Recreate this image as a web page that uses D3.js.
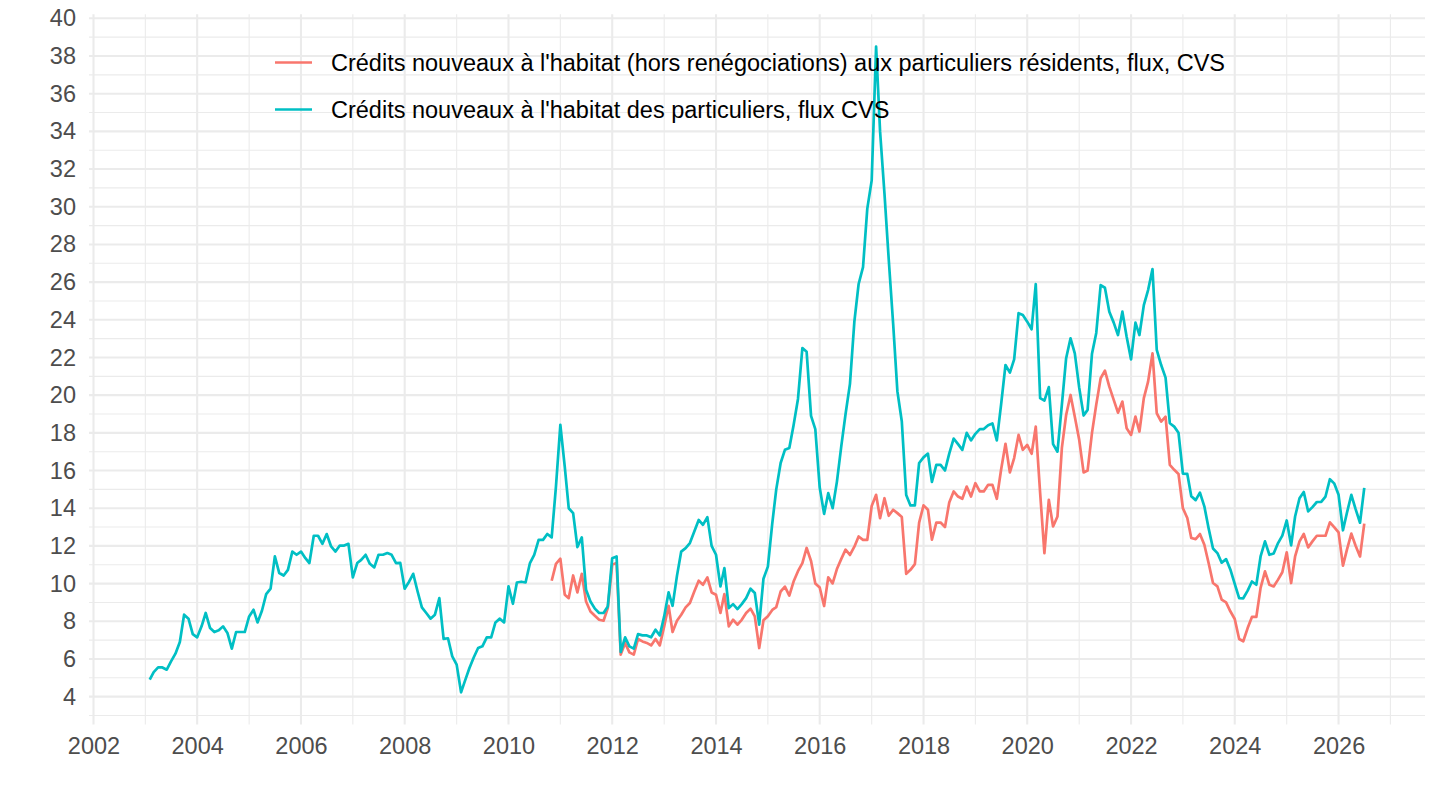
<!DOCTYPE html>
<html>
<head>
<meta charset="utf-8">
<script src="https://cdn.jsdelivr.net/npm/d3@7"></script>
<style>
  html, body { margin: 0; padding: 0; background: #fff; }
  svg { display: block; font-family: "Liberation Sans", Arial, Helvetica, sans-serif; }
</style>
</head>
<body>
<svg id="chart" width="1440" height="810"></svg>
<script>
// New housing loans to households, monthly flows, seasonally adjusted (bn EUR)

const seriesLabels = [
  "Crédits nouveaux à l'habitat (hors renégociations) aux particuliers résidents, flux, CVS",
  "Crédits nouveaux à l'habitat des particuliers, flux CVS"
]
const seriesColors = ['#F8766D', '#00BFC4']

// first month of each series
const startExclReneg = new Date(2010, 10, 1)   // Nov 2010
const startAllLoans = new Date(2003, 1, 1)     // Feb 2003

// hors renégociations (red), Nov 2010 -> Jul 2026
const exclReneg = [
  10.15, 11.05,
  11.32, 9.41, 9.23, 10.43, 9.53, 10.52, 9.05, 8.52, 8.29, 8.08, 8.03, 8.7,
  11.0, 11.1, 6.23, 6.85, 6.35, 6.23, 7.06, 6.93, 6.85, 6.72, 7.06, 6.72,
  7.73, 8.82, 7.43, 8.03, 8.35, 8.74, 8.97, 9.58, 10.15, 9.94, 10.33, 9.53,
  9.41, 8.44, 9.44, 7.73, 8.08, 7.82, 8.08, 8.44, 8.67, 8.26, 6.58, 8.05,
  8.27, 8.6, 8.75, 9.58, 9.84, 9.36, 10.11, 10.66, 11.09, 11.89, 11.2, 10.01,
  9.79, 8.81, 10.33, 10.01, 10.77, 11.31, 11.8, 11.52, 11.96, 12.5, 12.32, 12.32,
  14.12, 14.71, 13.47, 14.53, 13.6, 13.92, 13.74, 13.53, 10.52, 10.73, 11.03, 13.24,
  14.15, 13.92, 12.33, 13.24, 13.24, 13.0, 14.3, 14.89, 14.62, 14.5, 15.15, 14.62,
  15.33, 14.89, 14.89, 15.24, 15.24, 14.5, 16.04, 17.42, 15.9, 16.66, 17.89, 17.1,
  17.36, 16.89, 18.33, 14.8, 11.62, 14.45, 13.03, 13.56, 17.2, 18.95, 20.01, 18.86,
  17.63, 15.9, 16.0, 18.0, 19.5, 20.9, 21.3, 20.45, 19.75, 19.07, 19.66, 18.24,
  17.89, 18.86, 18.07, 19.84, 20.72, 22.22, 19.04, 18.6, 18.86, 16.3, 16.04, 15.82,
  14.0, 13.48, 12.42, 12.36, 12.63, 12.06, 11.09, 10.03, 9.85, 9.15, 9.0, 8.53,
  8.12, 7.06, 6.94, 7.64, 8.23, 8.23, 9.77, 10.65, 9.94, 9.85, 10.21, 10.6,
  11.66, 10.03, 11.44, 12.24, 12.63, 11.92, 12.24, 12.54, 12.54, 12.54, 13.25, 13.0,
  12.72, 10.95, 11.8, 12.65, 12.01, 11.44, 13.18
]

// all new housing loans (cyan), Feb 2003 -> Jul 2026
const allLoans = [
  4.9, 5.3, 5.55, 5.55, 5.43, 5.87, 6.28, 6.9, 8.35, 8.14, 7.32,
  7.15, 7.73, 8.44, 7.64, 7.43, 7.52, 7.73, 7.38, 6.55, 7.43, 7.43, 7.43,
  8.26, 8.61, 7.94, 8.56, 9.44, 9.73, 11.44, 10.56, 10.43, 10.73, 11.7, 11.53,
  11.7, 11.35, 11.09, 12.54, 12.54, 12.11, 12.63, 11.97, 11.7, 12.02, 12.02, 12.11,
  10.33, 11.09, 11.26, 11.53, 11.05, 10.86, 11.53, 11.53, 11.62, 11.53, 11.09, 11.1,
  9.73, 10.1, 10.52, 9.58, 8.74, 8.44, 8.14, 8.35, 9.23, 7.07, 7.1, 6.14,
  5.7, 4.23, 4.85, 5.52, 6.08, 6.58, 6.67, 7.15, 7.15, 7.94, 8.14, 7.94,
  9.85, 8.93, 10.06, 10.1, 10.06, 11.09, 11.53, 12.32, 12.32, 12.63, 12.45, 15.15,
  18.42, 16.21, 14.0, 13.74, 11.94, 12.45, 9.67, 9.05, 8.67, 8.44, 8.44, 8.79,
  11.35, 11.44, 6.37, 7.15, 6.67, 6.55, 7.32, 7.25, 7.25, 7.15, 7.55, 7.25,
  8.26, 9.53, 8.82, 10.41, 11.7, 11.88, 12.15, 12.77, 13.38, 13.12, 13.53, 12.0,
  11.53, 9.85, 10.82, 8.7, 8.91, 8.65, 8.91, 9.23, 9.73, 9.5, 7.82, 10.26,
  10.9, 13.2, 15.0, 16.4, 17.1, 17.2, 18.4, 19.8, 22.5, 22.3, 18.9, 18.2,
  15.1, 13.7, 14.8, 14.0, 15.4, 17.3, 19.0, 20.6, 23.9, 25.9, 26.8, 29.9,
  31.4, 38.5, 34.0, 30.7, 27.2, 23.8, 20.2, 18.6, 14.7, 14.15, 14.15, 16.4,
  16.7, 16.9, 15.4, 16.3, 16.3, 16.0, 16.9, 17.7, 17.4, 17.1, 18.0, 17.6,
  17.95, 18.2, 18.2, 18.4, 18.5, 17.6, 19.5, 21.6, 21.2, 21.9, 24.35, 24.25,
  23.9, 23.5, 25.9, 19.84, 19.71, 20.43, 17.4, 17.0, 19.5, 21.96, 23.02, 22.22,
  20.4, 18.92, 19.22, 22.2, 23.3, 25.84, 25.7, 24.43, 23.85, 23.19, 24.43, 23.1,
  21.9, 23.85, 23.19, 24.78, 25.58, 26.69, 22.4, 21.6, 20.93, 18.51, 18.33, 18.01,
  15.84, 15.82, 14.64, 14.43, 14.83, 14.1, 12.94, 11.86, 11.62, 11.11, 11.3, 10.75,
  9.98, 9.23, 9.22, 9.63, 10.11, 9.94, 11.44, 12.24, 11.53, 11.6, 12.15, 12.55,
  13.35, 12.03, 13.56, 14.53, 14.86, 13.83, 14.06, 14.33, 14.34, 14.62, 15.54, 15.32,
  14.71, 12.83, 13.76, 14.71, 13.95, 13.23, 15.08
]

const yTicks = d3.range(4, 41, 2)
const yMinor = d3.range(3, 41, 2)
const xTickYears = d3.range(2002, 2027, 2)
const xMinorYears = d3.range(2003, 2028, 2)

function toPoints (start, values) {
  return values.map((v, i) => ({ date: d3.timeMonth.offset(start, i), value: v }))
}

const series = [
  { name: seriesLabels[0], color: seriesColors[0], points: toPoints(startExclReneg, exclReneg) },
  { name: seriesLabels[1], color: seriesColors[1], points: toPoints(startAllLoans, allLoans) }
]

const svg = d3.select('#chart')
const panel = { left: 89, right: 1425, top: 14.3, bottom: 724.6 }
const fontSize = 23.5

// ggplot-like 5% expansion of the data range
const allPts = series.flatMap(s => s.points)
const xExt = d3.extent(allPts, d => d.date)
const xPad = (xExt[1] - xExt[0]) * 0.05
const x = d3.scaleTime()
  .domain([new Date(+xExt[0] - xPad), new Date(+xExt[1] + xPad)])
  .range([panel.left, panel.right])

const yExt = d3.extent(allPts, d => d.value)
const yPad = (yExt[1] - yExt[0]) * 0.05
const y = d3.scaleLinear()
  .domain([yExt[0] - yPad, yExt[1] + yPad])
  .range([panel.bottom, panel.top])

const grid = svg.append('g').attr('class', 'grid')
const yDom = y.domain()

// minor grid
grid.selectAll('line.ymin').data(yMinor.filter(v => v >= yDom[0] && v <= yDom[1]))
  .join('line').attr('class', 'ymin')
  .attr('x1', panel.left).attr('x2', panel.right)
  .attr('y1', d => y(d)).attr('y2', d => y(d))
  .attr('stroke', '#EBEBEB').attr('stroke-width', 1.1)
grid.selectAll('line.xmin').data(xMinorYears)
  .join('line').attr('class', 'xmin')
  .attr('x1', d => x(new Date(d, 0, 1))).attr('x2', d => x(new Date(d, 0, 1)))
  .attr('y1', panel.top).attr('y2', panel.bottom)
  .attr('stroke', '#EBEBEB').attr('stroke-width', 1.1)

// major grid
grid.selectAll('line.ymaj').data(yTicks)
  .join('line').attr('class', 'ymaj')
  .attr('x1', panel.left).attr('x2', panel.right)
  .attr('y1', d => y(d)).attr('y2', d => y(d))
  .attr('stroke', '#EBEBEB').attr('stroke-width', 2.1)
grid.selectAll('line.xmaj').data(xTickYears)
  .join('line').attr('class', 'xmaj')
  .attr('x1', d => x(new Date(d, 0, 1))).attr('x2', d => x(new Date(d, 0, 1)))
  .attr('y1', panel.top).attr('y2', panel.bottom)
  .attr('stroke', '#EBEBEB').attr('stroke-width', 2.1)

// axes (text only, like theme_minimal)
const yAxis = d3.axisLeft(y).tickValues(yTicks).tickSize(0).tickPadding(13)
svg.append('g')
  .attr('transform', `translate(${panel.left},0)`)
  .call(yAxis)
  .call(g => g.select('.domain').remove())
  .call(g => g.selectAll('text')
    .attr('fill', '#4D4D4D').attr('font-size', fontSize)
    .attr('font-family', '"Liberation Sans", Arial, sans-serif'))

const xAxis = d3.axisBottom(x)
  .tickValues(xTickYears.map(yr => new Date(yr, 0, 1)))
  .tickFormat(d3.timeFormat('%Y'))
  .tickSize(0).tickPadding(13)
svg.append('g')
  .attr('transform', `translate(0,${panel.bottom})`)
  .call(xAxis)
  .call(g => g.select('.domain').remove())
  .call(g => g.selectAll('text')
    .attr('fill', '#4D4D4D').attr('font-size', fontSize)
    .attr('font-family', '"Liberation Sans", Arial, sans-serif'))

// lines
const line = d3.line().x(d => x(d.date)).y(d => y(d.value))
svg.append('g').selectAll('path').data(series)
  .join('path')
  .attr('d', d => line(d.points))
  .attr('fill', 'none')
  .attr('stroke', d => d.color)
  .attr('stroke-width', 2.7)
  .attr('stroke-linejoin', 'round')

// legend inside the panel
const legend = svg.append('g').attr('transform', 'translate(275,62.5)')
const item = legend.selectAll('g').data(series).join('g')
  .attr('transform', (d, i) => `translate(0,${i * 47})`)
item.append('line')
  .attr('x1', 0).attr('x2', 37).attr('y1', 0).attr('y2', 0)
  .attr('stroke', d => d.color).attr('stroke-width', 2.7)
item.append('text')
  .attr('x', 56).attr('y', fontSize * 0.36)
  .attr('font-size', fontSize).attr('fill', '#000')
  .text(d => d.name)
</script>
</body>
</html>
